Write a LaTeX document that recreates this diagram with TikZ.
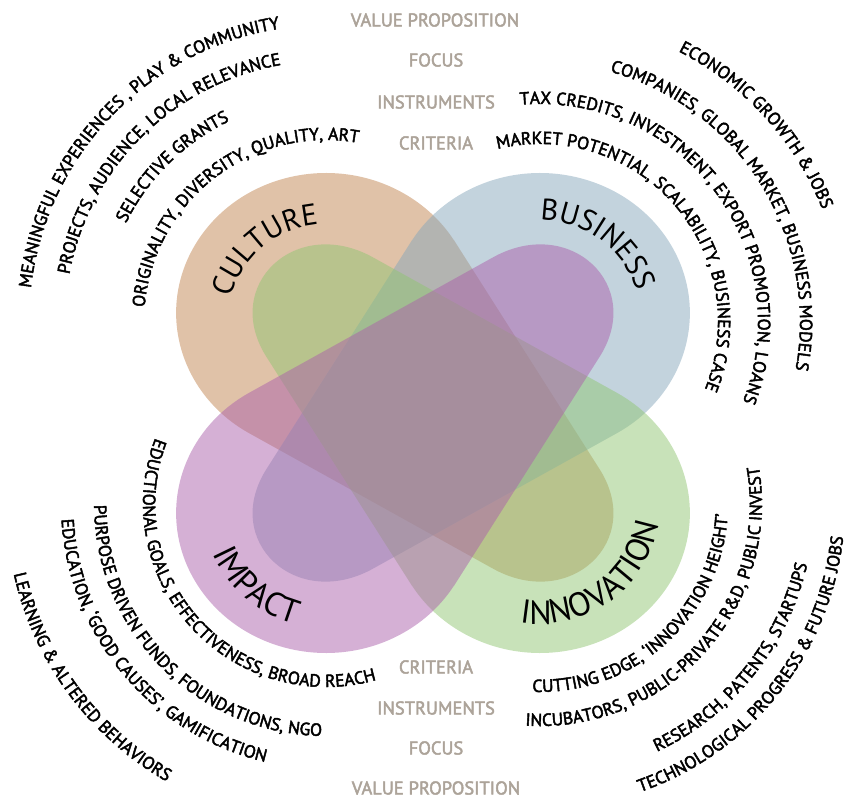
\documentclass[tikz,border=0pt]{standalone}
\usepackage{fontspec}
\setmainfont{PT Sans}
\newfontfamily\ringfamily[FakeBold=2.5]{PT Sans}
\usepackage{tikz}
\usetikzlibrary{decorations.text}
\definecolor{culturetan}{RGB}{193,133,81}
\definecolor{businessblue}{RGB}{135,167,187}
\definecolor{impactpurple}{RGB}{171,97,171}
\definecolor{innovgreen}{RGB}{145,197,115}
\definecolor{labelgrey}{RGB}{172,163,153}
\newcommand{\ringfont}{\ringfamily\fontsize{10}{12}\selectfont}
\newcommand{\titlefont}{\fontsize{17}{20}\selectfont}
\newcommand{\lowtitlefont}{\fontsize{19}{22}\selectfont}
\newcommand{\leafpath}{(19.5,173) -- (155,-55) .. controls (199.3,-127.6) and (127.6,-199.3) .. (55,-155) -- (-173,-19.5) arc[start angle=238.6, end angle=31.4, radius=140] -- cycle}
\tikzset{
  leaf/.style={fill=#1, fill opacity=0.5},
  ringtext/.style={decorate, decoration={text along path, text align=center, text={|\ringfont|#1}}},
  titletext/.style={decorate, decoration={text along path, text align=center, text={|\titlefont|#1}}},
  lowtitletext/.style={decorate, decoration={text along path, text align=center, text={|\lowtitlefont|#1}}},
  greylabel/.style={text=labelgrey, font={\ringfamily\fontsize{10.5}{12}\selectfont}}}

\begin{document}
\begin{tikzpicture}[x=0.02cm, y=0.02cm]
\tikzstyle{every node}+=[inner sep=0pt]
\useasboundingbox (-433,-388) rectangle (415,413);
\begin{scope}[xscale=1.07]
\fill[leaf=culturetan] \leafpath;
\end{scope}
\begin{scope}[xscale=-1.07]
\fill[leaf=businessblue] \leafpath;
\end{scope}
\begin{scope}[xscale=-1.07, yscale=-1]
\fill[leaf=innovgreen] \leafpath;
\end{scope}
\begin{scope}[xscale=1.07, yscale=-1]
\fill[leaf=impactpurple] \leafpath;
\end{scope}
\path[titletext=CULTURE] (-107,91) ++(189.8:98) arc[start angle=189.8, end angle=69.8, radius=98];
\path[ringtext={MEANINGFUL EXPERIENCES , PLAY {\&} COMMUNITY}] (-107,91) ++(216.2:297) arc[start angle=216.2, end angle=56.2, radius=297];
\path[ringtext={PROJECTS, AUDIENCE, LOCAL RELEVANCE}] (-107,91) ++(214.7:261) arc[start angle=214.7, end angle=54.7, radius=261];
\path[ringtext={SELECTIVE GRANTS}] (-107,91) ++(214.7:223) arc[start angle=214.7, end angle=54.7, radius=223];
\path[ringtext={ORIGINALITY, DIVERSITY, QUALITY, ART}] (-107,91) ++(207.6:182) arc[start angle=207.6, end angle=47.6, radius=182];
\path[titletext=BUSINESS] (107,91) ++(113.6:102) arc[start angle=113.6, end angle=-6.4, radius=102];
\path[ringtext={ECONOMIC GROWTH {\&} JOBS}] (107,91) ++(122.3:304) arc[start angle=122.3, end angle=-37.7, radius=304];
\path[ringtext={COMPANIES, GLOBAL MARKET, BUSINESS MODELS}] (107,91) ++(111.9:260) arc[start angle=111.9, end angle=-48.1, radius=260];
\path[ringtext={TAX CREDITS, INVESTMENT, EXPORT PROMOTION, LOANS}] (107,91) ++(116.9:218) arc[start angle=116.9, end angle=-43.1, radius=218];
\path[ringtext={MARKET POTENTIAL, SCALABILITY, BUSINESS CASE}] (107,91) ++(120.8:178) arc[start angle=120.8, end angle=-39.2, radius=178];
\path[lowtitletext=IMPACT] (-107,-91) ++(169.5:124) arc[start angle=169.5, end angle=289.5, radius=124];
\path[ringtext={EDUCTIONAL GOALS, EFFECTIVENESS, BROAD REACH}] (-107,-91) ++(142.4:183) arc[start angle=142.4, end angle=302.4, radius=183];
\path[ringtext={PURPOSE DRIVEN FUNDS, FOUNDATIONS, NGO}] (-107,-91) ++(144.6:232) arc[start angle=144.6, end angle=304.6, radius=232];
\path[ringtext={EDUCATION, ‘GOOD CAUSES’, GAMIFICATION}] (-107,-91) ++(140:265) arc[start angle=140, end angle=300, radius=265];
\path[ringtext={LEARNING {\&} ALTERED BEHAVIORS}] (-107,-91) ++(136.4:320) arc[start angle=136.4, end angle=296.4, radius=320];
\path[lowtitletext=INNOVATION] (107,-91) ++(245.5:120) arc[start angle=245.5, end angle=365.5, radius=120];
\path[ringtext={CUTTING EDGE, ‘INNOVATION HEIGHT’}] (107,-91) ++(232.3:188) arc[start angle=232.3, end angle=392.3, radius=188];
\path[ringtext={INCUBATORS, PUBLIC-PRIVATE R{\&}D, PUBLIC INVEST}] (107,-91) ++(238:222) arc[start angle=238, end angle=398, radius=222];
\path[ringtext={RESEARCH, PATENTS, STARTUPS}] (107,-91) ++(241.3:274) arc[start angle=241.3, end angle=401.3, radius=274];
\path[ringtext={TECHNOLOGICAL PROGRESS {\&} FUTURE JOBS}] (107,-91) ++(241.5:305) arc[start angle=241.5, end angle=401.5, radius=305];
\draw (2,393) node[greylabel] (proptop) {VALUE PROPOSITION};
\draw (3,353) node[greylabel] (focustop) {FOCUS};
\draw (3,311) node[greylabel] (instrtop) {INSTRUMENTS};
\draw (3,270) node[greylabel] (crittop) {CRITERIA};
\draw (3,-254) node[greylabel] (critbot) {CRITERIA};
\draw (3,-295) node[greylabel] (instrbot) {INSTRUMENTS};
\draw (3,-335) node[greylabel] (focusbot) {FOCUS};
\draw (3,-375) node[greylabel] (propbot) {VALUE PROPOSITION};
\end{tikzpicture}
\end{document}
